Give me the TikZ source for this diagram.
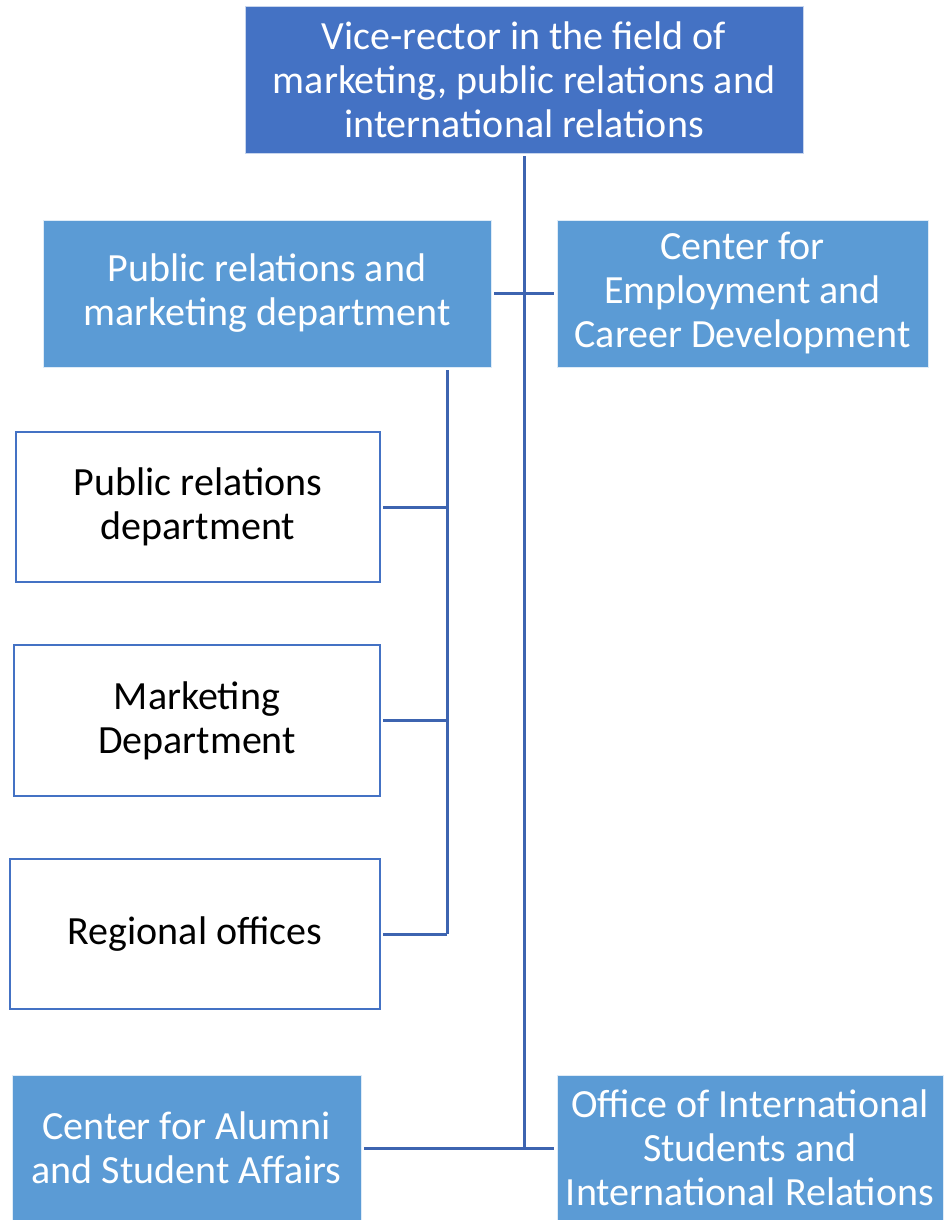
\documentclass[tikz,border=0pt]{standalone}
\usepackage{fontspec}
\setmainfont{Carlito}
\usetikzlibrary{shapes, calc}

\definecolor{darkbox}{HTML}{4472C4}
\definecolor{lightbox}{HTML}{5B9BD5}
\definecolor{linkcol}{HTML}{3D64B0}

\tikzset{
  bluebox/.style={draw=white!80!lightbox, line width=1pt, fill=lightbox, text=white, align=center, rectangle, inner sep=0pt, outer sep=3pt, font=\fontsize{40}{44}\selectfont},
  topbox/.style={bluebox, fill=darkbox, draw=white!70!darkbox},
  whitebox/.style={draw=darkbox, line width=2.2pt, fill=white, text=black, align=center, rectangle, inner sep=0pt, outer sep=3pt, font=\fontsize{40}{44}\selectfont},
  link/.style={draw=linkcol, line width=3pt}
}

\begin{document}
\begin{tikzpicture}[x=1pt, y=-1pt]
        \useasboundingbox (0,0) rectangle (944,1220);
        \node[topbox, minimum width=558pt, minimum height=146pt] (vr) at (524,80)
        {Vice-rector in the field of\\marketing, public relations and\\international relations};
        \node[bluebox, minimum width=448pt, minimum height=147pt] (prm) at (267,293.5)
        {Public relations and\\marketing department};
        \node[bluebox, minimum width=371pt, minimum height=147pt] (cec) at (742.5,293.5)
        {Center for\\Employment and\\Career Development};
        \node[whitebox, minimum width=364pt, minimum height=150pt] (prd) at (198,507)
        {Public relations\\department};
        \node[whitebox, minimum width=366pt, minimum height=151pt] (md) at (197,720.5)
        {Marketing\\Department};
        \node[whitebox, minimum width=370pt, minimum height=150pt] (ro) at (195,934)
        {Regional offices};
        \node[bluebox, minimum width=349pt, minimum height=146pt] (casa) at (186.5,1148)
        {Center for Alumni\\and Student Affairs};
        \node[bluebox, minimum width=386pt, minimum height=146pt] (ois) at (750,1148)
        {Office of International\\Students and\\International Relations};

        \coordinate (hub) at ($(prm.south east)+(-47,0)$);
        \coordinate (trunk) at (vr.south |- casa.east);

        \draw[link] (vr.south) -- (trunk);
        \draw[link] (prm.east) -- (cec.west);
        \draw[link] (casa.east) -- (ois.west);
        \draw[link] (hub) -- (hub |- ro.east);
        \draw[link] (prd.east) -- (prd.east -| hub);
        \draw[link] (md.east) -- (md.east -| hub);
        \draw[link] (ro.east) -- (ro.east -| hub);
    \end{tikzpicture}
\end{document}
